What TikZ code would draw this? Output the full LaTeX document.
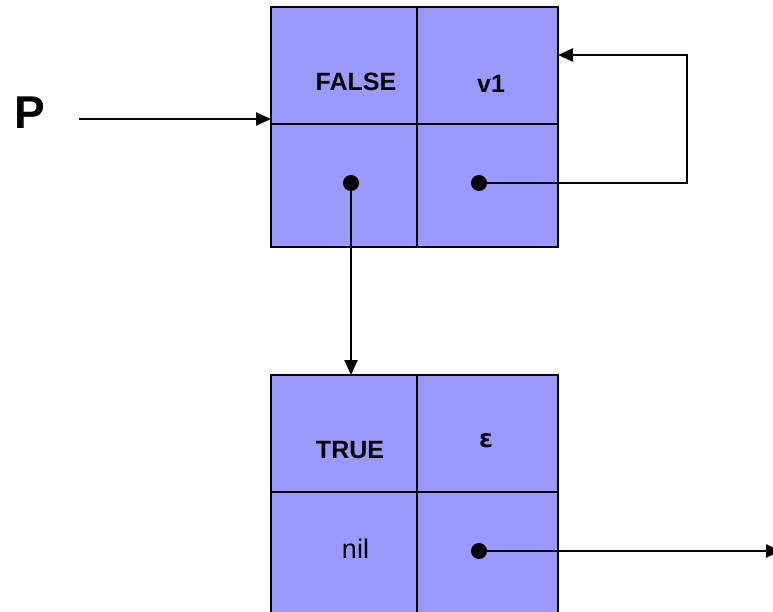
\documentclass[tikz,border=0pt]{standalone}
\usepackage{fontspec}
\setmainfont{Liberation Sans}
\newfontfamily\epsfont{DejaVu Sans}
\usetikzlibrary{arrows.meta}
\definecolor{cellblue}{HTML}{9999FF}
\tikzset{
  cell/.style={draw=black, fill=cellblue, line width=1.3pt, inner sep=0pt, outer sep=0pt, anchor=north west},
  outer/.style={draw=black, line width=2.4pt},
  lbl/.style={inner sep=0pt, font=\fontsize{25}{28}\selectfont\bfseries},
  plain/.style={inner sep=0pt, font=\fontsize{27}{30}\selectfont},
  dot/.style={circle, fill=black, minimum size=16pt, inner sep=0pt},
  arr/.style={line width=2.4pt, -{Triangle[length=15pt,width=13pt]}},
}
\begin{document}
\begin{tikzpicture}[x=1pt,y=-1pt]
\useasboundingbox (0,0) rectangle (773,612);
\clip (0,0) rectangle (773,612);
% top record
\node[cell, minimum width=146pt, minimum height=117pt] (a1) at (271,7) {};
\node[cell, minimum width=141pt, minimum height=117pt] (a2) at (417,7) {};
\node[cell, minimum width=146pt, minimum height=123pt] (a3) at (271,124) {};
\node[cell, minimum width=141pt, minimum height=123pt] (a4) at (417,124) {};
\draw[outer] (a1.north west) rectangle (a4.south east);
% bottom record
\node[cell, minimum width=146pt, minimum height=117pt] (b1) at (271,375) {};
\node[cell, minimum width=141pt, minimum height=117pt] (b2) at (417,375) {};
\node[cell, minimum width=146pt, minimum height=130pt] (b3) at (271,492) {};
\node[cell, minimum width=141pt, minimum height=130pt] (b4) at (417,492) {};
\draw[outer] (b1.north west) rectangle (b4.south east);
% labels
\node[lbl] (tfalse) at (356,82) {FALSE};
\node[lbl] (tv1) at (491,84) {v1};
\node[lbl] (ttrue) at (350,450) {TRUE};
\node[inner sep=0pt, font=\epsfont\fontsize{25}{28}\selectfont\bfseries] (teps) at (486,441) {ε};
\node[plain] (tnil) at (355.5,549) {nil};
\node[inner sep=0pt, font=\fontsize{46}{50}\selectfont\bfseries] (P) at (29.5,113) {P};
% dots
\node[dot] (d1) at (351,183) {};
\node[dot] (d2) at (479,183) {};
\node[dot] (d3) at (479,551) {};
% connectors
\coordinate (pstart) at (79,119);
\draw[arr] (pstart) -- (pstart -| a1.west);
\draw[arr] (d1.center) -- (d1.center |- b1.north);
\coordinate (loopB) at (687,183);
\coordinate (loopT) at (687,55);
\draw[arr] (d2.center) -- (loopB) -- (loopT) -- (loopT -| a2.east);
\coordinate (outend) at (781,551);
\draw[arr] (d3.center) -- (outend);
\end{tikzpicture}
\end{document}
